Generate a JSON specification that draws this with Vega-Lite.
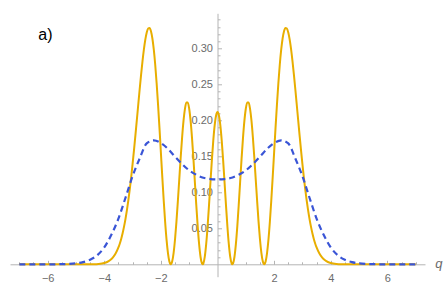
{
  "$schema": "https://vega.github.io/schema/vega-lite/v6.json",
  "width": 415,
  "height": 263.4,
  "autosize": {"type": "none"},
  "padding": {"left": 10, "top": 13.3, "right": 23, "bottom": 14.3},
  "background": "white",
  "title": {"text": "a)", "anchor": "start", "frame": "group", "orient": "top", "offset": 0, "dx": 28.3, "dy": 42.7, "baseline": "alphabetic", "fontSize": 16, "font": "Liberation Sans", "fontWeight": "normal", "color": "#000000"},
  "config": {"view": {"stroke": null}, "axis": {"grid": false}},
  "resolve": {"axis": {"x": "independent", "y": "independent"}},
  "layer": [
    {
      "data": {"values": [
        {"q": -7, "p": 0}, {"q": -6.5, "p": 0}, {"q": -6, "p": 0}, {"q": -5.5, "p": 0}, {"q": -5, "p": 0},
        {"q": -4.8, "p": 0.00001}, {"q": -4.6, "p": 0.00004}, {"q": -4.4, "p": 0.00015}, {"q": -4.2, "p": 0.00055},
        {"q": -4.0, "p": 0.00184}, {"q": -3.9, "p": 0.00324}, {"q": -3.8, "p": 0.00555}, {"q": -3.7, "p": 0.00923}, {"q": -3.6, "p": 0.01492},
        {"q": -3.5, "p": 0.02342}, {"q": -3.45, "p": 0.02901}, {"q": -3.4, "p": 0.03567}, {"q": -3.35, "p": 0.04352}, {"q": -3.3, "p": 0.05268},
        {"q": -3.25, "p": 0.06325}, {"q": -3.2, "p": 0.07533}, {"q": -3.15, "p": 0.08897}, {"q": -3.1, "p": 0.10419}, {"q": -3.05, "p": 0.12094},
        {"q": -3.0, "p": 0.13914}, {"q": -2.95, "p": 0.15872}, {"q": -2.9, "p": 0.1793}, {"q": -2.85, "p": 0.20024}, {"q": -2.8, "p": 0.22171},
        {"q": -2.75, "p": 0.24288}, {"q": -2.7, "p": 0.2632}, {"q": -2.65, "p": 0.28197}, {"q": -2.6, "p": 0.29856}, {"q": -2.55, "p": 0.31217},
        {"q": -2.5, "p": 0.32213}, {"q": -2.45, "p": 0.32774}, {"q": -2.4, "p": 0.32847}, {"q": -2.35, "p": 0.32391}, {"q": -2.3, "p": 0.31382},
        {"q": -2.25, "p": 0.29819}, {"q": -2.2, "p": 0.27727}, {"q": -2.15, "p": 0.25154}, {"q": -2.1, "p": 0.22198}, {"q": -2.05, "p": 0.18953},
        {"q": -2.0, "p": 0.15543}, {"q": -1.95, "p": 0.1213}, {"q": -1.9, "p": 0.08867}, {"q": -1.85, "p": 0.05918}, {"q": -1.8, "p": 0.03438},
        {"q": -1.75, "p": 0.01559}, {"q": -1.7, "p": 0.0039}, {"q": -1.6507, "p": 0}, {"q": -1.6, "p": 0.00412}, {"q": -1.55, "p": 0.01599},
        {"q": -1.5, "p": 0.03484}, {"q": -1.45, "p": 0.05939}, {"q": -1.4, "p": 0.08795}, {"q": -1.35, "p": 0.11847}, {"q": -1.3, "p": 0.14873},
        {"q": -1.25, "p": 0.17647}, {"q": -1.2, "p": 0.19955}, {"q": -1.15, "p": 0.21613}, {"q": -1.1, "p": 0.22485}, {"q": -1.05, "p": 0.22491},
        {"q": -1.0, "p": 0.2162}, {"q": -0.95, "p": 0.19928}, {"q": -0.9, "p": 0.17542}, {"q": -0.85, "p": 0.14645}, {"q": -0.8, "p": 0.11468},
        {"q": -0.75, "p": 0.08267}, {"q": -0.7, "p": 0.05307}, {"q": -0.65, "p": 0.02833}, {"q": -0.6, "p": 0.01054}, {"q": -0.55, "p": 0.00121},
        {"q": -0.5247, "p": 0}, {"q": -0.5, "p": 0.00114}, {"q": -0.45, "p": 0.01034}, {"q": -0.4, "p": 0.02801}, {"q": -0.35, "p": 0.05258},
        {"q": -0.3, "p": 0.0819}, {"q": -0.25, "p": 0.11336}, {"q": -0.2, "p": 0.14416}, {"q": -0.15, "p": 0.17156}, {"q": -0.1, "p": 0.1931},
        {"q": -0.05, "p": 0.20684}, {"q": 0, "p": 0.2116},
        {"q": 0.05, "p": 0.20684}, {"q": 0.1, "p": 0.1931}, {"q": 0.15, "p": 0.17156}, {"q": 0.2, "p": 0.14416}, {"q": 0.25, "p": 0.11336},
        {"q": 0.3, "p": 0.0819}, {"q": 0.35, "p": 0.05258}, {"q": 0.4, "p": 0.02801}, {"q": 0.45, "p": 0.01034}, {"q": 0.5, "p": 0.00114},
        {"q": 0.5247, "p": 0}, {"q": 0.55, "p": 0.00121}, {"q": 0.6, "p": 0.01054}, {"q": 0.65, "p": 0.02833}, {"q": 0.7, "p": 0.05307},
        {"q": 0.75, "p": 0.08267}, {"q": 0.8, "p": 0.11468}, {"q": 0.85, "p": 0.14645}, {"q": 0.9, "p": 0.17542}, {"q": 0.95, "p": 0.19928},
        {"q": 1.0, "p": 0.2162}, {"q": 1.05, "p": 0.22491}, {"q": 1.1, "p": 0.22485}, {"q": 1.15, "p": 0.21613}, {"q": 1.2, "p": 0.19955},
        {"q": 1.25, "p": 0.17647}, {"q": 1.3, "p": 0.14873}, {"q": 1.35, "p": 0.11847}, {"q": 1.4, "p": 0.08795}, {"q": 1.45, "p": 0.05939},
        {"q": 1.5, "p": 0.03484}, {"q": 1.55, "p": 0.01599}, {"q": 1.6, "p": 0.00412}, {"q": 1.6507, "p": 0}, {"q": 1.7, "p": 0.0039},
        {"q": 1.75, "p": 0.01559}, {"q": 1.8, "p": 0.03438}, {"q": 1.85, "p": 0.05918}, {"q": 1.9, "p": 0.08867}, {"q": 1.95, "p": 0.1213},
        {"q": 2.0, "p": 0.15543}, {"q": 2.05, "p": 0.18953}, {"q": 2.1, "p": 0.22198}, {"q": 2.15, "p": 0.25154}, {"q": 2.2, "p": 0.27727},
        {"q": 2.25, "p": 0.29819}, {"q": 2.3, "p": 0.31382}, {"q": 2.35, "p": 0.32391}, {"q": 2.4, "p": 0.32847}, {"q": 2.45, "p": 0.32774},
        {"q": 2.5, "p": 0.32213}, {"q": 2.55, "p": 0.31217}, {"q": 2.6, "p": 0.29856}, {"q": 2.65, "p": 0.28197}, {"q": 2.7, "p": 0.2632},
        {"q": 2.75, "p": 0.24288}, {"q": 2.8, "p": 0.22171}, {"q": 2.85, "p": 0.20024}, {"q": 2.9, "p": 0.1793}, {"q": 2.95, "p": 0.15872},
        {"q": 3.0, "p": 0.13914}, {"q": 3.05, "p": 0.12094}, {"q": 3.1, "p": 0.10419}, {"q": 3.15, "p": 0.08897}, {"q": 3.2, "p": 0.07533},
        {"q": 3.25, "p": 0.06325}, {"q": 3.3, "p": 0.05268}, {"q": 3.35, "p": 0.04352}, {"q": 3.4, "p": 0.03567}, {"q": 3.45, "p": 0.02901},
        {"q": 3.5, "p": 0.02342}, {"q": 3.6, "p": 0.01492}, {"q": 3.7, "p": 0.00923}, {"q": 3.8, "p": 0.00555}, {"q": 3.9, "p": 0.00324},
        {"q": 4.0, "p": 0.00184}, {"q": 4.2, "p": 0.00055}, {"q": 4.4, "p": 0.00015}, {"q": 4.6, "p": 0.00004}, {"q": 4.8, "p": 0.00001},
        {"q": 5, "p": 0}, {"q": 5.5, "p": 0}, {"q": 6, "p": 0}, {"q": 6.5, "p": 0}, {"q": 7, "p": 0}
      ]},
      "mark": {"type": "line", "color": "#e8ae00", "strokeWidth": 2, "interpolate": "monotone"},
      "encoding": {
        "x": {"field": "q", "type": "quantitative",
          "scale": {"domain": [-7.33, 7.33], "nice": false, "zero": false},
          "axis": {"orient": "bottom", "offset": -12.4, "values": [-6, -4, -2, 2, 4, 6], "format": "d",
            "tickSize": -4, "tickColor": "#b4b4b4", "domainColor": "#b4b4b4", "domainWidth": 1, "tickWidth": 1,
            "labelColor": "#6b6b6b", "labelFont": "Liberation Sans", "labelFontSize": 11, "labelPadding": 11.7,
            "labelFlush": false, "labelOverlap": false, "grid": false,
            "title": "q", "titleX": 428.3, "titleY": 3, "titleBaseline": "alphabetic", "titleAlign": "center", "titleAngle": 0,
            "titleFont": "Liberation Sans", "titleFontStyle": "italic", "titleFontWeight": "normal", "titleFontSize": 13, "titleColor": "#6b6b6b"}},
        "y": {"field": "p", "type": "quantitative",
          "scale": {"domain": [-0.0172, 0.3488], "nice": false, "zero": false},
          "axis": {"orient": "left", "offset": -207.5, "values": [0.05, 0.1, 0.15, 0.2, 0.25, 0.3], "format": ".2f",
            "tickSize": -4, "tickColor": "#b4b4b4", "domainColor": "#b4b4b4", "domainWidth": 1, "tickWidth": 1,
            "labelColor": "#6b6b6b", "labelFont": "Liberation Sans", "labelFontSize": 11, "labelPadding": 9,
            "labelFlush": false, "labelOverlap": false, "grid": false, "title": null}}
      }
    },
    {
      "data": {"values": [
        {"q": -7, "p": 0}, {"q": -6.5, "p": 0}, {"q": -6, "p": 0}, {"q": -5.5, "p": 0.0002}, {"q": -5.25, "p": 0.0005},
        {"q": -5, "p": 0.0013}, {"q": -4.75, "p": 0.003}, {"q": -4.5, "p": 0.0063}, {"q": -4.25, "p": 0.0125}, {"q": -4, "p": 0.0235},
        {"q": -3.75, "p": 0.041}, {"q": -3.5, "p": 0.0635}, {"q": -3.25, "p": 0.0925}, {"q": -3, "p": 0.1225}, {"q": -2.75, "p": 0.147},
        {"q": -2.5, "p": 0.168}, {"q": -2.25, "p": 0.1723}, {"q": -2, "p": 0.1685}, {"q": -1.75, "p": 0.1605}, {"q": -1.5, "p": 0.1495},
        {"q": -1.25, "p": 0.1393}, {"q": -1, "p": 0.1305}, {"q": -0.75, "p": 0.1245}, {"q": -0.5, "p": 0.1203}, {"q": -0.25, "p": 0.1185},
        {"q": 0, "p": 0.118},
        {"q": 0.25, "p": 0.1185}, {"q": 0.5, "p": 0.1203}, {"q": 0.75, "p": 0.1245}, {"q": 1, "p": 0.1305}, {"q": 1.25, "p": 0.1393},
        {"q": 1.5, "p": 0.1495}, {"q": 1.75, "p": 0.1605}, {"q": 2, "p": 0.1685}, {"q": 2.25, "p": 0.1723}, {"q": 2.5, "p": 0.168},
        {"q": 2.75, "p": 0.147}, {"q": 3, "p": 0.1225}, {"q": 3.25, "p": 0.0925}, {"q": 3.5, "p": 0.0635}, {"q": 3.75, "p": 0.041},
        {"q": 4, "p": 0.0235}, {"q": 4.25, "p": 0.0125}, {"q": 4.5, "p": 0.0063}, {"q": 4.75, "p": 0.003}, {"q": 5, "p": 0.0013},
        {"q": 5.25, "p": 0.0005}, {"q": 5.5, "p": 0.0002}, {"q": 6, "p": 0}, {"q": 6.5, "p": 0}, {"q": 7, "p": 0}
      ]},
      "mark": {"type": "line", "color": "#3a55d6", "strokeWidth": 2.2, "strokeDash": [6, 4], "interpolate": "monotone"},
      "encoding": {
        "x": {"field": "q", "type": "quantitative",
          "scale": {"domain": [-7.33, 7.33], "nice": false, "zero": false},
          "axis": {"orient": "bottom", "offset": -12.4,
            "values": [-7, -6.5, -5.5, -5, -4.5, -3.5, -3, -2.5, -1.5, -1, -0.5, 0.5, 1, 1.5, 2.5, 3, 3.5, 4.5, 5, 5.5, 6.5, 7],
            "tickSize": -2.5, "tickColor": "#b4b4b4", "tickWidth": 1, "labels": false, "domain": false, "grid": false, "title": null}},
        "y": {"field": "p", "type": "quantitative",
          "scale": {"domain": [-0.0172, 0.3488], "nice": false, "zero": false},
          "axis": {"orient": "left", "offset": -207.5,
            "values": [0.01, 0.02, 0.03, 0.04, 0.06, 0.07, 0.08, 0.09, 0.11, 0.12, 0.13, 0.14, 0.16, 0.17, 0.18, 0.19, 0.21, 0.22, 0.23, 0.24, 0.26, 0.27, 0.28, 0.29, 0.31, 0.32, 0.33, 0.34],
            "tickSize": -2.5, "tickColor": "#b4b4b4", "tickWidth": 1, "labels": false, "domain": false, "grid": false, "title": null}}
      }
    }
  ]
}
